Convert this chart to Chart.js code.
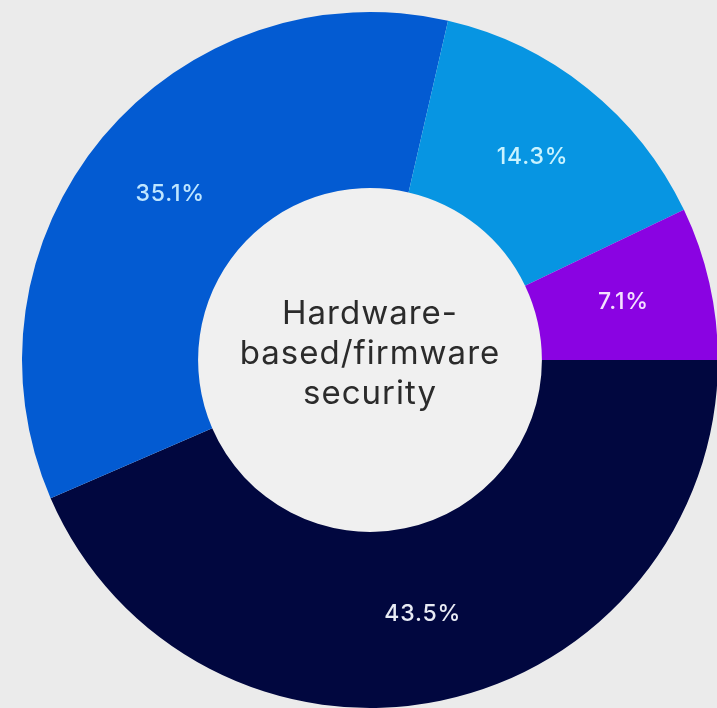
<!DOCTYPE html>
<html>
<head>
<meta charset="utf-8">
<script src="https://cdn.jsdelivr.net/npm/chart.js@4"></script>
<style>
  html, body { margin: 0; padding: 0; background: #ebebeb; overflow: hidden; }
  #wrap { position: absolute; left: 0; top: 0; width: 740px; height: 720px; }
</style>
</head>
<body>
<div id="wrap"><canvas id="donut"></canvas></div>
<script>
const labels = ['Segment A', 'Segment B', 'Segment C', 'Segment D'];
const values = [43.5, 35.1, 14.3, 7.1];
const colors = ['#01073f', '#035bd2', '#0795e2', '#8a03e2'];
const labelColors = ['#e8ebf4', '#bfe6ff', '#c9f3ff', '#f4e0ff'];
const centerLines = ['Hardware-', 'based/firmware', 'security'];

const holeFill = {
    id: 'holeFill',
    beforeDatasetsDraw(chart) {
        const ctx = chart.ctx;
        const arc = chart.getDatasetMeta(0).data[0];
        ctx.save();
        ctx.fillStyle = '#f0f0f0';
        ctx.beginPath();
        ctx.arc(arc.x, arc.y, arc.innerRadius, 0, Math.PI * 2);
        ctx.fill();
        ctx.restore();
    }
};

const sliceLabels = {
    id: 'sliceLabels',
    afterDatasetsDraw(chart) {
        const ctx = chart.ctx;
        const meta = chart.getDatasetMeta(0);
        ctx.save();
        ctx.font = '500 23px Inter';
        ctx.letterSpacing = '0.8px';
        ctx.textAlign = 'center';
        ctx.textBaseline = 'middle';
        meta.data.forEach((arc, i) => {
            const p = arc.tooltipPosition();
            ctx.fillStyle = labelColors[i];
            ctx.fillText(values[i].toFixed(1) + '%', p.x, p.y);
        });
        ctx.restore();
    }
};

const centerText = {
    id: 'centerText',
    afterDraw(chart) {
        const ctx = chart.ctx;
        const arc = chart.getDatasetMeta(0).data[0];
        ctx.save();
        ctx.fillStyle = '#2b2b2b';
        ctx.font = '400 33px Inter';
        ctx.letterSpacing = '1px';
        ctx.textAlign = 'center';
        ctx.textBaseline = 'alphabetic';
        centerLines.forEach((line, i) => {
            ctx.fillText(line, arc.x, arc.y - 36 + i * 40);
        });
        ctx.restore();
    }
};

new Chart(document.getElementById('donut'), {
    type: 'doughnut',
    data: {
        labels: labels,
        datasets: [{
            data: values,
            backgroundColor: colors,
            borderWidth: 0,
            hoverOffset: 0,
            offset: 0
        }]
    },
    options: {
        responsive: true,
        maintainAspectRatio: false,
        animation: false,
        events: [],
        rotation: 90,
        cutout: '49.4%',
        layout: { padding: 12 },
        plugins: {
            legend: { display: false },
            tooltip: { enabled: false }
        }
    },
    plugins: [holeFill, sliceLabels, centerText]
});
</script>
</body>
</html>
